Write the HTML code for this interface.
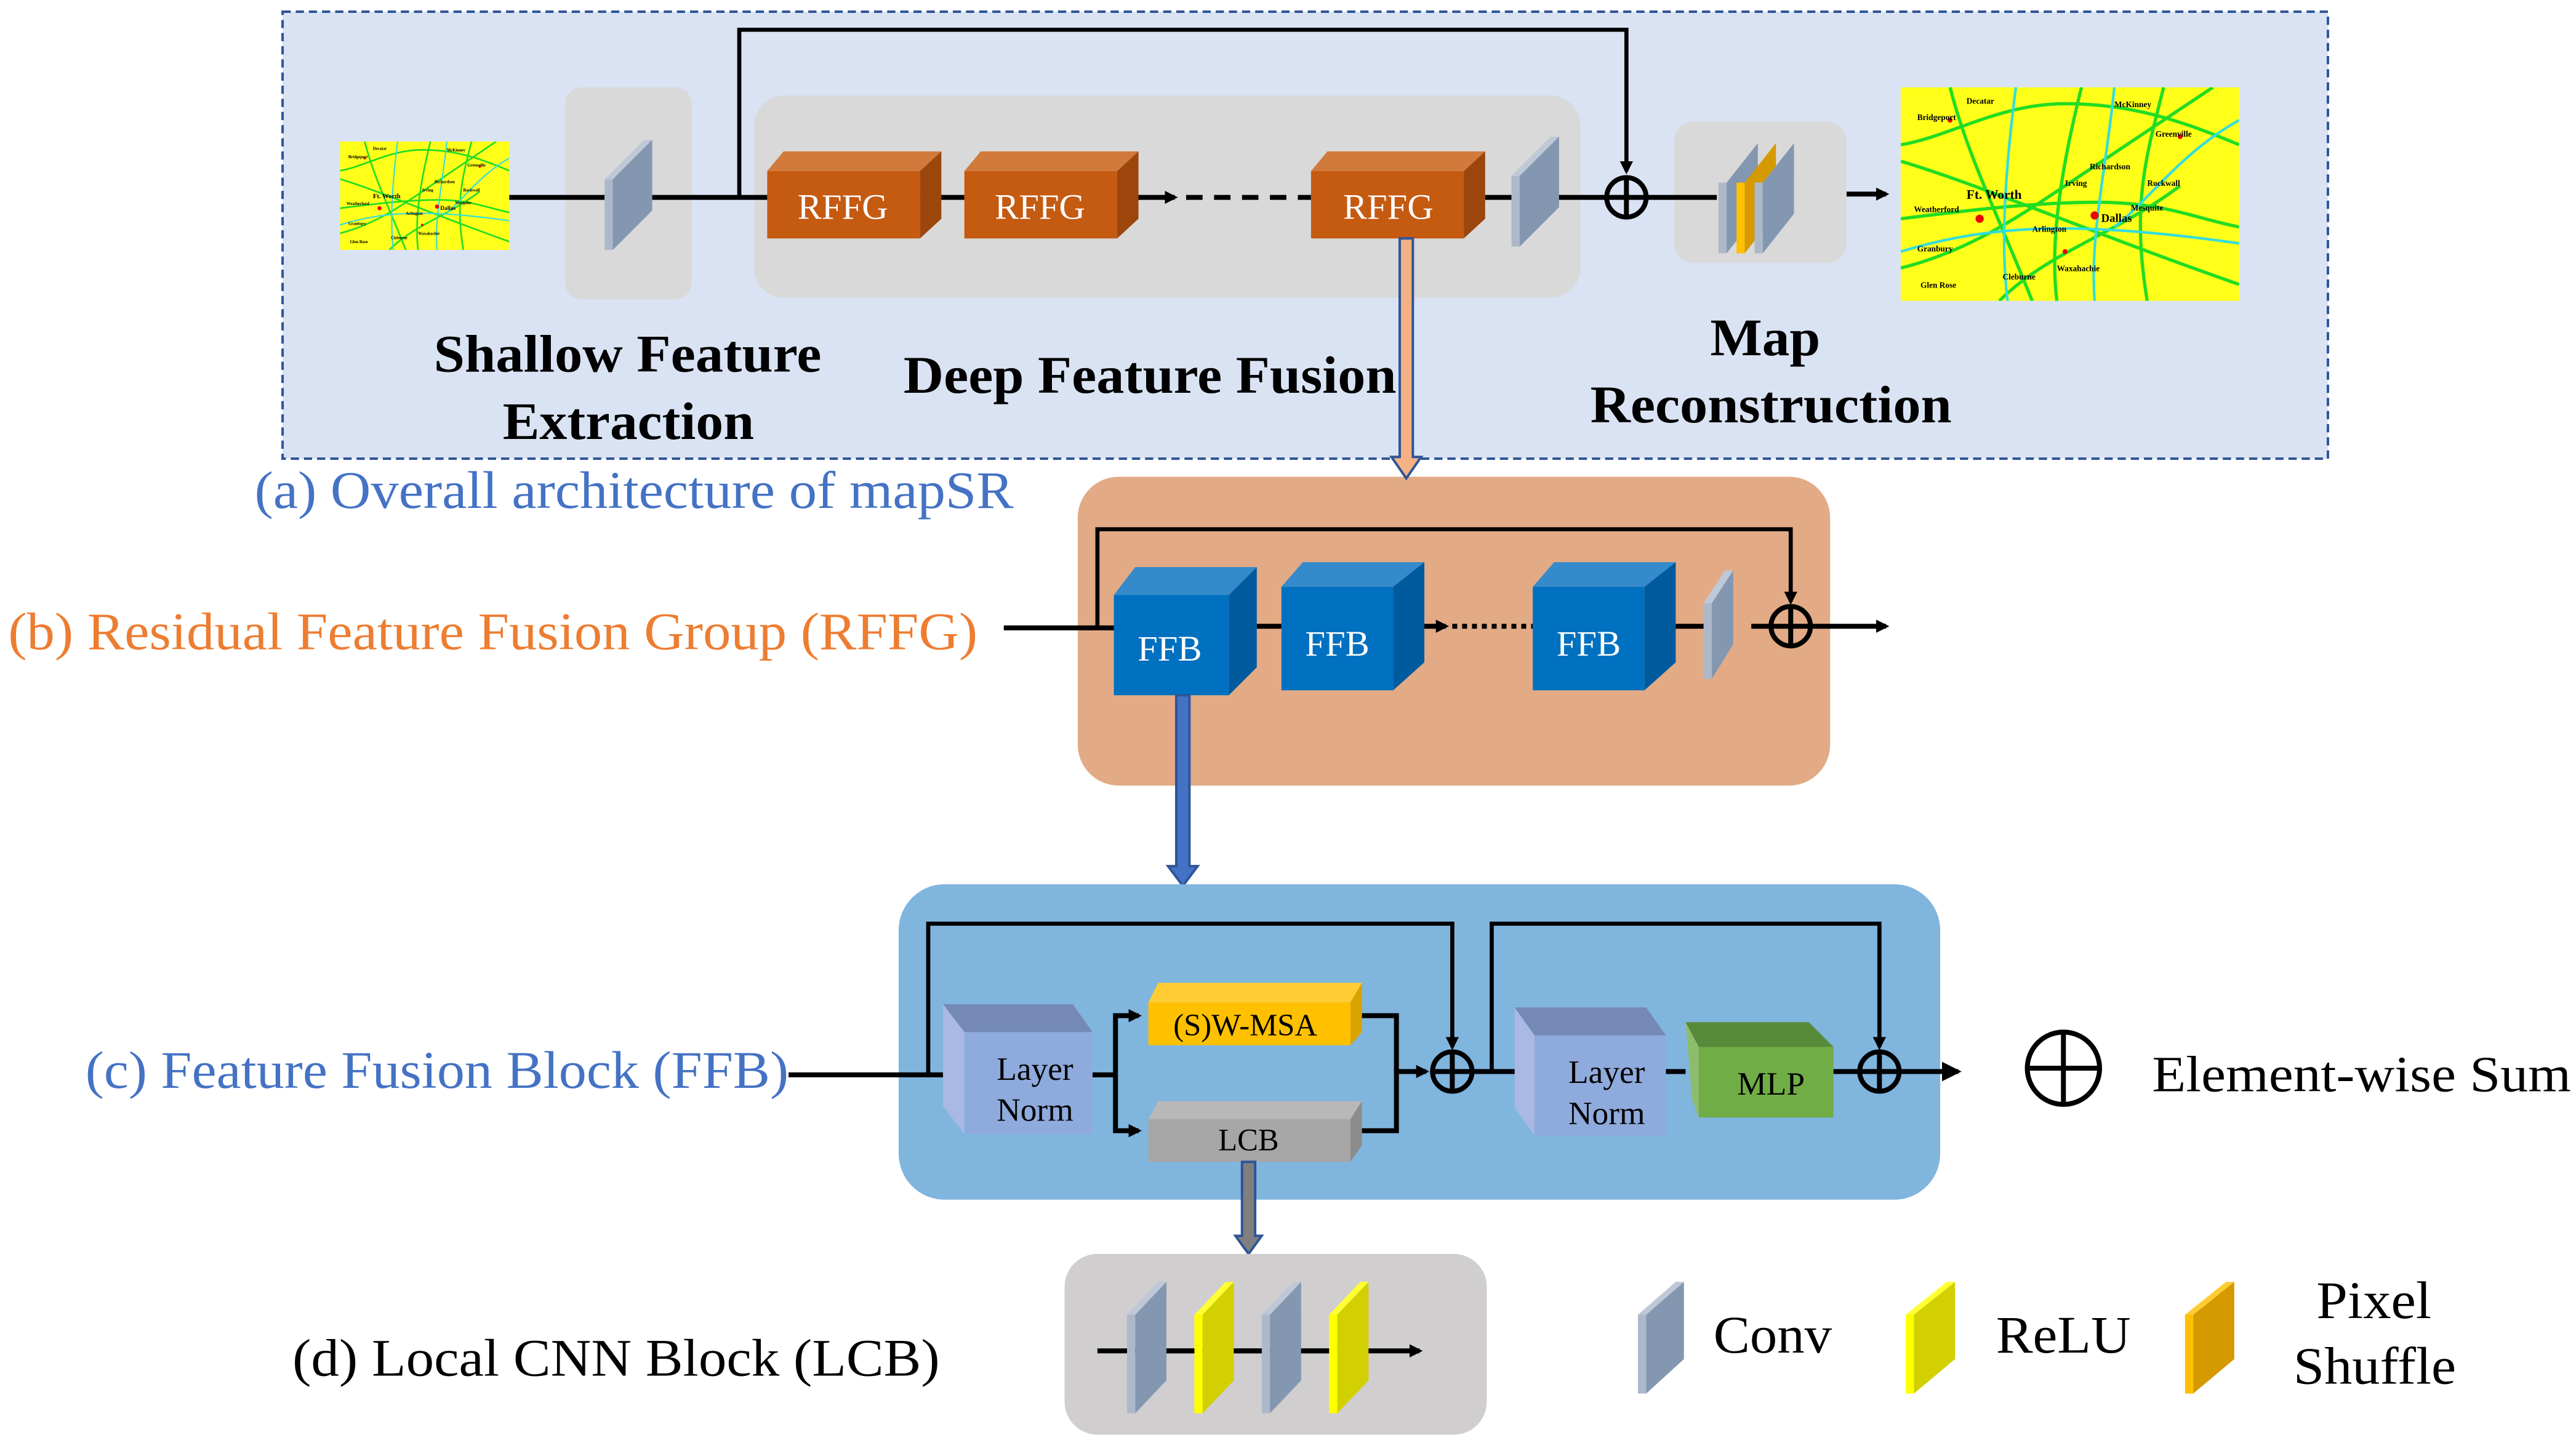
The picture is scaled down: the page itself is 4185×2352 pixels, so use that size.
<!DOCTYPE html>
<html><head><meta charset="utf-8"><style>
html,body{margin:0;padding:0;background:#fff}
svg{display:block}
text{font-family:"Liberation Serif",serif}
</style></head><body>
<svg width="4185" height="2352" viewBox="0 0 1568 881" xmlns="http://www.w3.org/2000/svg">
<defs>
<marker id="ah" markerWidth="8" markerHeight="8" refX="6" refY="4" orient="auto" markerUnits="userSpaceOnUse"><path d="M0,0 L8,4 L0,8 z" fill="#000"/></marker>
<marker id="ah2" markerWidth="12" markerHeight="12" refX="10" refY="6" orient="auto" markerUnits="userSpaceOnUse"><path d="M0,0 L12,6 L0,12 z" fill="#000"/></marker>
<symbol id="map" viewBox="0 0 206 130" preserveAspectRatio="none">
<rect width="206" height="130" fill="#ffff1a"/>
<g fill="none" stroke="#22dd22" stroke-width="2">
<path d="M0,35 C30,30 60,10 100,10 S170,20 206,35"/><path d="M0,80 C40,75 80,70 120,70 S180,80 206,85"/>
<path d="M30,0 C40,40 60,80 80,130"/><path d="M110,0 C100,40 90,90 95,130"/><path d="M160,0 C150,40 140,70 150,130"/>
<path d="M0,110 C40,100 70,80 100,60 S160,20 190,0"/><path d="M0,45 C50,60 120,90 206,120"/><path d="M60,130 C90,100 130,90 170,60"/>
</g>
<g fill="none" stroke="#33dddd" stroke-width="1.6">
<path d="M0,100 C50,85 100,80 206,95"/><path d="M70,0 C65,40 60,90 65,130"/><path d="M130,0 C125,50 115,90 118,130"/><path d="M206,20 C170,40 150,70 130,85"/>
</g>
<g fill="#e00"><circle cx="48" cy="80" r="2.5"/><circle cx="118" cy="78" r="2.5"/><circle cx="30" cy="20" r="1.5"/><circle cx="170" cy="30" r="1.5"/><circle cx="100" cy="100" r="1.5"/></g>
<g font-size="5" font-weight="bold" font-family="Liberation Sans,sans-serif" fill="#000">
<text x="10" y="20">Bridgeport</text><text x="40" y="10">Decatar</text><text x="130" y="12">McKinney</text><text x="155" y="30">Greenville</text>
<text x="40" y="68" font-size="8">Ft. Worth</text><text x="122" y="82" font-size="7">Dallas</text><text x="8" y="76">Weatherford</text>
<text x="100" y="60">Irving</text><text x="80" y="88">Arlington</text><text x="150" y="60">Rockwall</text><text x="140" y="75">Mesquite</text>
<text x="10" y="100">Granbury</text><text x="95" y="112">Waxahachie</text><text x="12" y="122">Glen Rose</text><text x="62" y="117">Cleburne</text><text x="115" y="50">Richardson</text>
</g>
</symbol>
</defs>

<!-- (a) -->
<rect x="172" y="7" width="1245" height="272" fill="#dae3f3" stroke="#2f5597" stroke-width="1.5" stroke-dasharray="5,3"/>
<use href="#map" x="207" y="86" width="103" height="66"/>
<rect x="344" y="53" width="77" height="129" rx="10" fill="#d9d9d9"/>
<rect x="459" y="58" width="503" height="123" rx="18" fill="#d9d9d9"/>
<rect x="1019" y="74" width="105" height="86" rx="12" fill="#d9d9d9"/>
<use href="#map" x="1157" y="53" width="206" height="130"/>

<g stroke="#000" stroke-width="3" fill="none">
<line x1="310" y1="120" x2="368" y2="120"/><line x1="397" y1="120" x2="467" y2="120"/>
<line x1="560" y1="120" x2="587" y2="120"/>
<line x1="680" y1="120" x2="715" y2="120" marker-end="url(#ah)"/>
<line x1="722" y1="120" x2="798" y2="120" stroke-dasharray="10,7"/>
<line x1="904" y1="120" x2="920" y2="120"/><line x1="947" y1="120" x2="978" y2="120"/>
<line x1="1002" y1="120" x2="1045" y2="120"/>
<line x1="1124" y1="118" x2="1148" y2="118" marker-end="url(#ah)"/>
<polyline points="450,120 450,18 990,18 990,104" stroke-width="2.5" marker-end="url(#ah)"/>
<circle cx="990" cy="120" r="12"/><line x1="978" y1="120" x2="1002" y2="120"/><line x1="990" y1="108" x2="990" y2="132"/>
</g>

<g>
<polygon points="368,109 373,109 373,152 368,152" fill="#adb9ca"/>
<polygon points="368,109 392,85 397,85 373,109" fill="#bfc8d6"/>
<polygon points="373,109 397,85 397,128 373,152" fill="#8497b0"/>
</g>
<g transform="translate(552,-2)">
<polygon points="368,109 373,109 373,152 368,152" fill="#adb9ca"/>
<polygon points="368,109 392,85 397,85 373,109" fill="#bfc8d6"/>
<polygon points="373,109 397,85 397,128 373,152" fill="#8497b0"/>
</g>
<g transform="translate(678,2)">
<polygon points="368,109 373,109 373,152 368,152" fill="#adb9ca"/>
<polygon points="373,109 392,85 392,128 373,152" fill="#8497b0"/>
</g>
<g transform="translate(689,2)">
<polygon points="368,109 373,109 373,152 368,152" fill="#ffc000"/>
<polygon points="373,109 392,85 392,128 373,152" fill="#d49a00"/>
</g>
<g transform="translate(700,2)">
<polygon points="368,109 373,109 373,152 368,152" fill="#adb9ca"/>
<polygon points="373,109 392,85 392,128 373,152" fill="#8497b0"/>
</g>

<g>
<polygon points="467,104 477,92 573,92 560,104" fill="#d07a3c"/><polygon points="560,104 573,92 573,133 560,145" fill="#9c460c"/><rect x="467" y="104" width="93" height="41" fill="#c55a11"/>
<polygon points="587,104 597,92 693,92 680,104" fill="#d07a3c"/><polygon points="680,104 693,92 693,133 680,145" fill="#9c460c"/><rect x="587" y="104" width="93" height="41" fill="#c55a11"/>
<polygon points="798,104 808,92 904,92 891,104" fill="#d07a3c"/><polygon points="891,104 904,92 904,133 891,145" fill="#9c460c"/><rect x="798" y="104" width="93" height="41" fill="#c55a11"/>
</g>
<g fill="#fff" font-size="22" text-anchor="middle">
<text x="513" y="133">RFFG</text><text x="633" y="133">RFFG</text><text x="845" y="133">RFFG</text>
</g>

<g font-size="32" font-weight="bold" fill="#000" lengthAdjust="spacingAndGlyphs">
<text x="264" y="226" textLength="236" lengthAdjust="spacingAndGlyphs">Shallow Feature</text>
<text x="306" y="267" textLength="153" lengthAdjust="spacingAndGlyphs">Extraction</text>
<text x="550" y="239" textLength="300" lengthAdjust="spacingAndGlyphs">Deep Feature Fusion</text>
<text x="1041" y="216" textLength="67" lengthAdjust="spacingAndGlyphs">Map</text>
<text x="968" y="257" textLength="220" lengthAdjust="spacingAndGlyphs">Reconstruction</text>
</g>
<text x="155" y="309" font-size="32" fill="#4472c4" textLength="462" lengthAdjust="spacingAndGlyphs">(a) Overall architecture of mapSR</text>

<!-- (b) -->
<rect x="656" y="290" width="458" height="188" rx="25" fill="#e2ab86"/>
<polygon points="852,145 860,145 860,278 865,278 856,291 847,278 852,278" fill="#f4b183" stroke="#2f5597" stroke-width="1.5"/>
<g stroke="#000" stroke-width="3" fill="none">
<line x1="611" y1="382" x2="678" y2="382"/><line x1="765" y1="381" x2="780" y2="381"/>
<line x1="866" y1="381" x2="880" y2="381" marker-end="url(#ah)"/>
<line x1="884" y1="381" x2="933" y2="381" stroke-dasharray="3,3"/>
<line x1="1020" y1="381" x2="1037" y2="381"/><line x1="1066" y1="381" x2="1078" y2="381"/>
<line x1="1102" y1="381" x2="1148" y2="381" marker-end="url(#ah)"/>
<polyline points="668,381 668,322 1090,322 1090,366" stroke-width="2.5" marker-end="url(#ah)"/>
<circle cx="1090" cy="381" r="12"/><line x1="1078" y1="381" x2="1102" y2="381"/><line x1="1090" y1="369" x2="1090" y2="393"/>
</g>
<g>
<polygon points="678,362 691,345 765,345 748,362" fill="#348acb"/><polygon points="748,362 765,345 765,406 748,423" fill="#005a9e"/><rect x="678" y="362" width="70" height="61" fill="#0070c0"/>
<polygon points="780,357 793,342 867,342 848,357" fill="#348acb"/><polygon points="848,357 867,342 867,403 848,420" fill="#005a9e"/><rect x="780" y="357" width="68" height="63" fill="#0070c0"/>
<polygon points="933,357 946,342 1020,342 1001,357" fill="#348acb"/><polygon points="1001,357 1020,342 1020,403 1001,420" fill="#005a9e"/><rect x="933" y="357" width="68" height="63" fill="#0070c0"/>
</g>
<g fill="#fff" font-size="22" text-anchor="middle">
<text x="712" y="402">FFB</text><text x="814" y="399">FFB</text><text x="967" y="399">FFB</text>
</g>
<polygon points="1037,367 1042,367 1042,413 1037,413" fill="#adb9ca"/><polygon points="1037,367 1050,347 1055,347 1042,367" fill="#bfc8d6"/><polygon points="1042,367 1055,347 1055,392 1042,413" fill="#8497b0"/>
<text x="5" y="395" font-size="32" fill="#ed7d31" textLength="590" lengthAdjust="spacingAndGlyphs">(b) Residual Feature Fusion Group (RFFG)</text>

<polygon points="716,423 724,423 724,527 729,527 720,539 711,527 716,527" fill="#4472c4" stroke="#2f5597" stroke-width="1.5"/>

<!-- (c) -->
<rect x="547" y="538" width="634" height="192" rx="28" fill="#80b5de"/>
<g stroke="#000" stroke-width="3" fill="none">
<line x1="480" y1="654" x2="575" y2="654"/>
<polyline points="565,654 565,562 884,562 884,637" stroke-width="2.5" marker-end="url(#ah)"/>
<polyline points="665,654 679,654"/>
<polyline points="679,654 679,618 693,618" marker-end="url(#ah)"/>
<polyline points="679,654 679,688 693,688" marker-end="url(#ah)"/>
<polyline points="829,618 850,618 850,652 868,652" marker-end="url(#ah)"/>
<polyline points="829,688 850,688 850,652"/>
<circle cx="884" cy="652" r="12"/><line x1="872" y1="652" x2="922" y2="652"/><line x1="884" y1="640" x2="884" y2="664"/>
<polyline points="908,652 908,562 1144,562 1144,637" stroke-width="2.5" marker-end="url(#ah)"/>
<line x1="1014" y1="652" x2="1026" y2="652"/><line x1="1116" y1="652" x2="1132" y2="652"/>
<circle cx="1144" cy="652" r="12"/><line x1="1144" y1="640" x2="1144" y2="664"/>
<line x1="1132" y1="652" x2="1192" y2="652" marker-end="url(#ah2)"/>
</g>
<polygon points="574,611 653,611 665,628 587,628" fill="#7489b5"/><polygon points="574,611 587,628 587,690 574,673" fill="#a9b9e4"/><rect x="587" y="628" width="78" height="62" fill="#8faadc"/>
<polygon points="922,613 1002,613 1014,630 934,630" fill="#7489b5"/><polygon points="922,613 934,630 934,691 922,674" fill="#a9b9e4"/><rect x="934" y="630" width="80" height="61" fill="#8faadc"/>
<g font-size="20" text-anchor="middle" fill="#000"><text x="630" y="657">Layer</text><text x="630" y="682">Norm</text><text x="978" y="659">Layer</text><text x="978" y="684">Norm</text></g>
<polygon points="699,610 705,598 829,598 822,610" fill="#ffcd33"/><polygon points="822,610 829,598 829,628 822,636" fill="#d9a300"/><rect x="699" y="610" width="123" height="26" fill="#ffc000"/>
<text x="758" y="630" font-size="19" text-anchor="middle">(S)W-MSA</text>
<polygon points="699,681 705,670 829,670 822,681" fill="#b8b8b8"/><polygon points="822,681 829,670 829,697 822,707" fill="#8c8c8c"/><rect x="699" y="681" width="123" height="26" fill="#a6a6a6"/>
<text x="760" y="700" font-size="19" text-anchor="middle">LCB</text>
<polygon points="1026,622 1101,622 1116,637 1034,637" fill="#578b39"/><polygon points="1026,622 1034,637 1034,680 1030,669" fill="#8dbd6c"/><rect x="1034" y="637" width="82" height="43" fill="#70ad47"/>
<text x="1078" y="666" font-size="20" text-anchor="middle">MLP</text>
<text x="52" y="662" font-size="32" fill="#4472c4" textLength="428" lengthAdjust="spacingAndGlyphs">(c) Feature Fusion Block (FFB)</text>

<polygon points="756,707 764,707 764,752 768,752 760,763 752,752 756,752" fill="#7f7f7f" stroke="#2f5597" stroke-width="1.5"/>

<g stroke="#000" stroke-width="3" fill="none"><circle cx="1256" cy="650" r="22"/><line x1="1234" y1="650" x2="1278" y2="650"/><line x1="1256" y1="628" x2="1256" y2="672"/></g>
<text x="1310" y="664" font-size="31" textLength="255" lengthAdjust="spacingAndGlyphs">Element-wise Sum</text>

<!-- (d) -->
<rect x="648" y="763" width="257" height="110" rx="20" fill="#d0cece"/>
<line x1="668" y1="822" x2="864" y2="822" stroke="#000" stroke-width="3" marker-end="url(#ah)"/>
<g>
<polygon points="686,800 691,800 691,860 686,860" fill="#adb9ca"/><polygon points="691,800 710,780 710,840 691,860" fill="#8497b0"/><polygon points="686,800 705,780 710,780 691,800" fill="#bfc8d6"/>
<polygon points="727,800 732,800 732,860 727,860" fill="#ffff00"/><polygon points="732,800 751,780 751,840 732,860" fill="#d2d000"/><polygon points="727,800 746,780 751,780 732,800" fill="#ffff33"/>
<polygon points="768,800 773,800 773,860 768,860" fill="#adb9ca"/><polygon points="773,800 792,780 792,840 773,860" fill="#8497b0"/><polygon points="768,800 787,780 792,780 773,800" fill="#bfc8d6"/>
<polygon points="809,800 814,800 814,860 809,860" fill="#ffff00"/><polygon points="814,800 833,780 833,840 814,860" fill="#d2d000"/><polygon points="809,800 828,780 833,780 814,800" fill="#ffff33"/>
</g>
<g stroke="#000" stroke-width="3"><line x1="710" y1="822" x2="727" y2="822"/><line x1="751" y1="822" x2="768" y2="822"/><line x1="792" y1="822" x2="809" y2="822"/></g>
<text x="178" y="837" font-size="32" textLength="394" lengthAdjust="spacingAndGlyphs">(d) Local CNN Block (LCB)</text>

<polygon points="997,800 1002,800 1002,848 997,848" fill="#adb9ca"/><polygon points="1002,800 1025,780 1025,827 1002,848" fill="#8497b0"/><polygon points="997,800 1020,780 1025,780 1002,800" fill="#bfc8d6"/>
<polygon points="1160,800 1165,800 1165,848 1160,848" fill="#ffff00"/><polygon points="1165,800 1190,780 1190,827 1165,848" fill="#d2d000"/><polygon points="1160,800 1185,780 1190,780 1165,800" fill="#ffff33"/>
<polygon points="1330,800 1335,800 1335,848 1330,848" fill="#ffc000"/><polygon points="1335,800 1360,780 1360,827 1335,848" fill="#d49a00"/><polygon points="1330,800 1355,780 1360,780 1335,800" fill="#ffcd33"/>
<g font-size="32">
<text x="1043" y="823" textLength="72" lengthAdjust="spacingAndGlyphs">Conv</text>
<text x="1215" y="823" textLength="82" lengthAdjust="spacingAndGlyphs">ReLU</text>
<text x="1410" y="802" textLength="70" lengthAdjust="spacingAndGlyphs">Pixel</text>
<text x="1396" y="842" textLength="99" lengthAdjust="spacingAndGlyphs">Shuffle</text>
</g>
</svg>
</body></html>
